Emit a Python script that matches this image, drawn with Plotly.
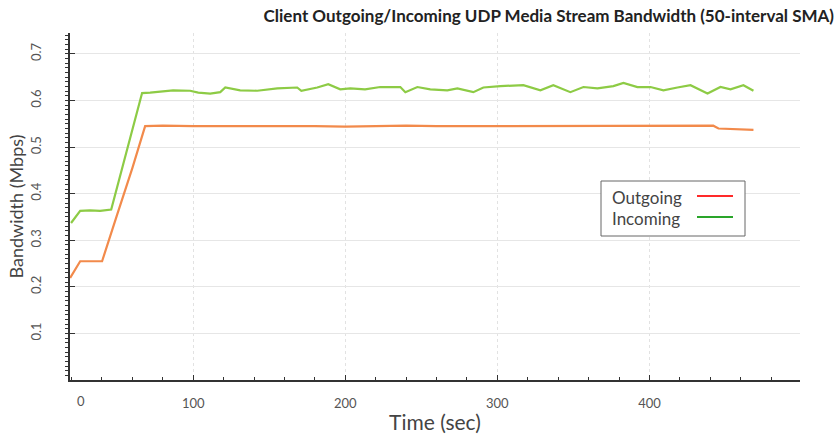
import plotly.graph_objects as go

# Outgoing stream (50-interval SMA), time in seconds / bandwidth in Mbps
out_time = [19.1, 25.7, 32.0, 40.1, 50.0, 60.0, 68.4, 80.0, 100.0, 120.0, 140.0,
            160.0, 180.0, 200.0, 220.0, 240.0, 260.0, 280.0, 300.0, 320.0, 340.0,
            360.0, 380.0, 400.0, 420.0, 435.0, 442.0, 445.4, 455.0, 468.4]
out_bw = [0.219, 0.255, 0.255, 0.255, 0.355, 0.455, 0.545, 0.546, 0.545, 0.545, 0.546,
          0.545, 0.545, 0.544, 0.545, 0.546, 0.545, 0.545, 0.546, 0.545, 0.545,
          0.546, 0.545, 0.545, 0.546, 0.545, 0.546, 0.540, 0.539, 0.537]

# Incoming stream (50-interval SMA)
in_time = [19.7, 25.7, 32.2, 38.8, 46.1, 56.0, 66.4, 71.7, 80.0, 86.8, 98.0, 103.3,
           111.2, 117.8, 121.1, 130.9, 142.1, 155.3, 168.4, 171.1, 181.6, 188.8,
           196.7, 203.3, 213.0, 223.0, 236.2, 239.5, 247.4, 255.9, 267.1, 273.7,
           284.2, 290.8, 302.0, 317.1, 328.3, 336.8, 348.0, 356.6, 365.8, 376.3,
           382.9, 392.1, 400.7, 409.2, 418.4, 427.0, 438.2, 446.7, 453.3, 461.8,
           468.4]
in_bw = [0.337, 0.363, 0.364, 0.363, 0.366, 0.490, 0.616, 0.617, 0.619, 0.622, 0.621, 0.617,
         0.615, 0.618, 0.628, 0.622, 0.621, 0.626, 0.628, 0.621, 0.628, 0.635,
         0.624, 0.626, 0.624, 0.629, 0.629, 0.618, 0.629, 0.624, 0.622, 0.626,
         0.618, 0.628, 0.631, 0.633, 0.622, 0.633, 0.618, 0.629, 0.626, 0.631,
         0.638, 0.629, 0.629, 0.622, 0.628, 0.633, 0.615, 0.629, 0.624, 0.633,
         0.621]

x_tick_vals = [100, 200, 300, 400]
x_tick_text = ["100", "200", "300", "400"]
y_tick_vals = [0.1, 0.2, 0.3, 0.4, 0.5, 0.6, 0.7]
y_tick_text = ["0.1", "0.2", "0.3", "0.4", "0.5", "0.6", "0.7"]

series_names = ["Outgoing", "Incoming"]
line_colors = ["#f28a4b", "#8dcb45"]
key_colors = ["#ff2a2a", "#2aa52a"]

FONT = "Lato"
TICK_COLOR = "#555555"

fig = go.Figure()
fig.add_trace(go.Scatter(x=out_time, y=out_bw, mode="lines", name=series_names[0],
                         line=dict(color=line_colors[0], width=2.2), showlegend=False))
fig.add_trace(go.Scatter(x=in_time, y=in_bw, mode="lines", name=series_names[1],
                         line=dict(color=line_colors[1], width=2.2), showlegend=False))

fig.update_layout(
    width=834, height=435,
    margin=dict(l=70, r=34, t=33, b=55),
    paper_bgcolor="white", plot_bgcolor="white",
    font=dict(family=FONT, color=TICK_COLOR),
    title=dict(text="<b>Client Outgoing/Incoming UDP Media Stream Bandwidth (50-interval SMA)</b>",
               x=547 / 834, xanchor="center", xref="paper", y=0.962, yanchor="middle",
               font=dict(family=FONT, size=17, color="#222222")),
)

fig.update_xaxes(
    range=[19, 499], showline=True, linecolor="#333333", linewidth=1.5,
    tickvals=x_tick_vals, ticktext=x_tick_text, ticks="inside", ticklen=5,
    tickcolor="#333333", tickfont=dict(size=13, color=TICK_COLOR),
    ticklabelstandoff=11, automargin=False,
    showgrid=True, gridcolor="#e2e2e2", griddash="dot", gridwidth=1,
    minor=dict(dtick=20, tick0=0, ticks="inside", ticklen=3, tickcolor="#333333", showgrid=False),
    zeroline=False,
    title=dict(text="Time (sec)", font=dict(size=21, color="#444444"), standoff=5),
)
fig.update_yaxes(
    range=[0, 0.745], showline=True, linecolor="#333333", linewidth=1.5,
    tickvals=y_tick_vals, ticktext=y_tick_text, ticks="inside", ticklen=5,
    tickcolor="#333333", tickangle=-90, tickfont=dict(size=13, color=TICK_COLOR),
    ticklabelstandoff=22, automargin=False,
    showgrid=True, gridcolor="#e6e6e6", gridwidth=1,
    minor=dict(dtick=0.01, tick0=0, ticks="outside", ticklen=3, tickcolor="#333333", showgrid=False),
    zeroline=False,
    title=dict(text="Bandwidth (Mbps)", font=dict(size=18, color="#444444"), standoff=0),
)

# First x label sits just right of the axis origin
fig.add_annotation(x=26, y=0, xref="x", yref="y", text="0", showarrow=False,
                   yanchor="top", yshift=-11, font=dict(size=13, color=TICK_COLOR))

# Key box with text on the left and line samples on the right
def px_x(px):
    return (px - 70) / 730

def px_y(py):
    return (380 - py) / 347

fig.add_shape(type="rect", xref="paper", yref="paper",
              x0=px_x(601), x1=px_x(745), y0=px_y(236), y1=px_y(181),
              line=dict(color="#666666", width=1), fillcolor="white")
for i, (name, col) in enumerate(zip(series_names, key_colors)):
    row_y = 197 + i * 21
    fig.add_annotation(xref="paper", yref="paper", x=px_x(610), y=px_y(row_y),
                       text=name, showarrow=False, xanchor="left", yanchor="middle",
                       font=dict(size=17, color="#444444"))
    fig.add_shape(type="line", xref="paper", yref="paper",
                  x0=px_x(697), x1=px_x(733), y0=px_y(row_y - 1), y1=px_y(row_y - 1),
                  line=dict(color=col, width=2))

fig.write_html("out.html")
